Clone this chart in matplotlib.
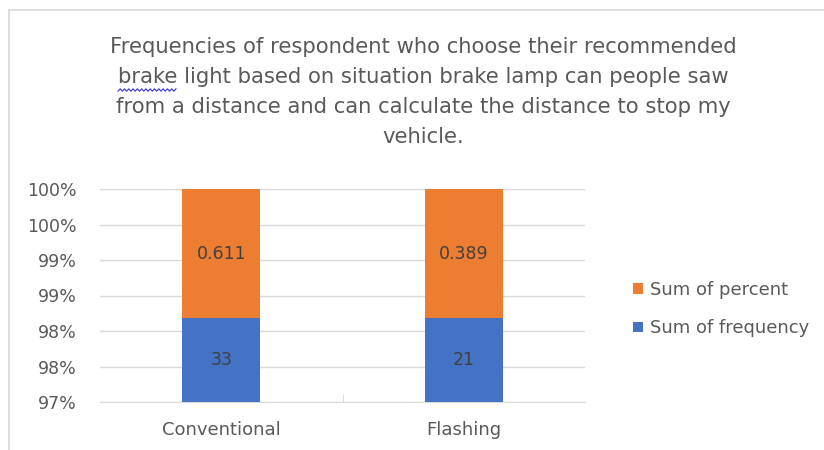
import matplotlib.pyplot as plt
import matplotlib.lines as mlines
import numpy as np

categories = ['Conventional', 'Flashing']
frequency = [33, 21]
percent = [0.611, 0.389]
series_names = ['Sum of frequency', 'Sum of percent']

title = ('Frequencies of respondent who choose their recommended\n'
         'brake light based on situation brake lamp can people saw\n'
         'from a distance and can calculate the distance to stop my\n'
         'vehicle.')

plt.rcParams['font.family'] = ['DejaVu Sans']
txt = '#595959'
blue = '#4472C4'
orange = '#ED7D31'

freq = np.array(frequency, dtype=float)
perc = np.array(percent, dtype=float)
total = freq + perc
f_share = freq / total
p_share = perc / total

fig = plt.figure(figsize=(8.24, 4.5), dpi=100)
ax = fig.add_axes([100/824, 1-402/450, 485/824, 213/450])

x = np.arange(len(categories))
w = 0.32
ax.bar(x, f_share, w, color=blue, label=series_names[0], zorder=3)
ax.bar(x, p_share, w, bottom=f_share, color=orange, label=series_names[1], zorder=3)

for i in range(len(categories)):
    ax.text(x[i], f_share[i] - (f_share[i] - 0.97) / 2, str(frequency[i]),
            ha='center', va='center', fontsize=12.5, color='#404040', zorder=4)
    ax.text(x[i], f_share[i] + p_share[i] / 2, '%.3f' % percent[i],
            ha='center', va='center', fontsize=12.5, color='#404040', zorder=4)

ax.set_xlim(-0.5, 1.5)
ax.set_ylim(0.97, 1.0)
yt = np.arange(0.97, 1.0001, 0.005)
ax.set_yticks(yt)
ax.set_yticklabels(['%d%%' % int(np.floor(v * 100 + 0.5 + 1e-9)) for v in yt],
                   fontsize=12.5, color=txt)
ax.grid(axis='y', color='#D9D9D9', linewidth=1, zorder=0)
ax.set_xticks(x)
ax.set_xticklabels(categories, fontsize=13, color=txt)
ax.set_xticks([0.5], minor=True)
ax.tick_params(axis='x', which='major', length=0, pad=14)
ax.tick_params(axis='x', which='minor', length=6, direction='in', color='#D9D9D9')
ax.tick_params(axis='y', length=0, pad=17)
for s in ['top', 'right', 'left']:
    ax.spines[s].set_visible(False)
ax.spines['bottom'].set_color('#D9D9D9')

h, l = ax.get_legend_handles_labels()
fig.legend(h[::-1], l[::-1], loc='center left', bbox_to_anchor=(617/824, 1-309/450),
           frameon=False, fontsize=13, labelcolor=txt, handlelength=0.55,
           handleheight=0.55, handletextpad=0.35, labelspacing=1.15)

fig.text(423/824, 1-92/450, title, ha='center', va='center', fontsize=15.2,
         color=txt, linespacing=1.62)

# spell-check squiggle under "brake"
sx = np.linspace(118, 176, 28)
sy = 90 + 1.2 * np.where(np.arange(28) % 2 == 0, 1, -1)
fig.add_artist(mlines.Line2D(sx/824, 1-sy/450, color='#3333DD', lw=0.8))

# outer chart frame
fig.add_artist(mlines.Line2D([9/824, 9/824], [0, 1-10/450], color='#D9D9D9', lw=1.2))
fig.add_artist(mlines.Line2D([9/824, 1], [1-10/450, 1-10/450], color='#D9D9D9', lw=1.2))

fig.savefig('out.png', dpi=100)
